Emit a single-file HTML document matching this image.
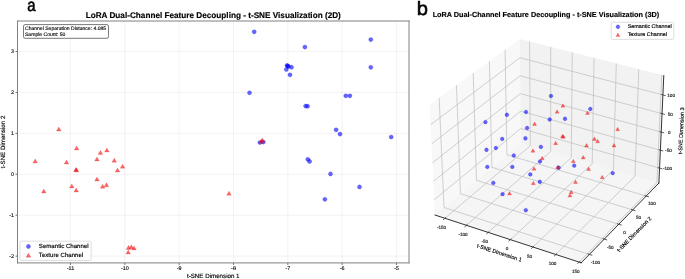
<!DOCTYPE html>
<html><head><meta charset="utf-8"><style>html,body{margin:0;padding:0;background:#fff;width:685px;height:279px;overflow:hidden}svg{display:block;font-family:"Liberation Sans",sans-serif;will-change:transform}svg text{text-rendering:geometricPrecision;stroke:currentColor;stroke-width:0.15px}</style></head><body>
<svg width="685px" height="279px" viewBox="0 0 685 279" version="1.1">
 
 <defs>
  <style type="text/css">*{stroke-linejoin: round; stroke-linecap: butt}</style>
 </defs>
 <g id="figure_1">
  <g id="patch_1">
   <path d="M 0 279 
L 685 279 
L 685 0 
L 0 0 
z
" style="fill: #ffffff"/>
  </g>
  <g id="axes_1">
   <g id="patch_2">
    <path d="M 17.5 262.9 
L 409 262.9 
L 409 21 
L 17.5 21 
z
" style="fill: #ffffff"/>
   </g>
   <g id="matplotlib.axis_1">
    <g id="xtick_1">
     <g id="line2d_1">
      <path d="M 70.45 262.9 
L 70.45 21 
" clip-path="url(#p39f86102aa)" style="fill: none; stroke: #b0b0b0; stroke-opacity: 0.2; stroke-width: 0.8; stroke-linecap: square"/>
     </g>
     <g id="line2d_2">
      <defs>
       <path id="m42e0598f33" d="M 0 0 
L 0 2 
" style="stroke: #444444; stroke-width: 0.8"/>
      </defs>
      <g>
       <use href="#m42e0598f33" x="70.45" y="262.9" style="fill: #444444; stroke: #444444; stroke-width: 0.8"/>
      </g>
     </g>
     <g id="text_1">
      <text style="font-size: 5.4px; font-family: 'Liberation Sans'; text-anchor: middle; fill: #222222" x="70.45" y="270.313312" transform="rotate(-0 70.45 270.313312)">-11</text>
     </g>
    </g>
    <g id="xtick_2">
     <g id="line2d_3">
      <path d="M 124.8 262.9 
L 124.8 21 
" clip-path="url(#p39f86102aa)" style="fill: none; stroke: #b0b0b0; stroke-opacity: 0.2; stroke-width: 0.8; stroke-linecap: square"/>
     </g>
     <g id="line2d_4">
      <g>
       <use href="#m42e0598f33" x="124.8" y="262.9" style="fill: #444444; stroke: #444444; stroke-width: 0.8"/>
      </g>
     </g>
     <g id="text_2">
      <text style="font-size: 5.4px; font-family: 'Liberation Sans'; text-anchor: middle; fill: #222222" x="124.8" y="270.313312" transform="rotate(-0 124.8 270.313312)">-10</text>
     </g>
    </g>
    <g id="xtick_3">
     <g id="line2d_5">
      <path d="M 179.15 262.9 
L 179.15 21 
" clip-path="url(#p39f86102aa)" style="fill: none; stroke: #b0b0b0; stroke-opacity: 0.2; stroke-width: 0.8; stroke-linecap: square"/>
     </g>
     <g id="line2d_6">
      <g>
       <use href="#m42e0598f33" x="179.15" y="262.9" style="fill: #444444; stroke: #444444; stroke-width: 0.8"/>
      </g>
     </g>
     <g id="text_3">
      <text style="font-size: 5.4px; font-family: 'Liberation Sans'; text-anchor: middle; fill: #222222" x="179.15" y="270.313312" transform="rotate(-0 179.15 270.313312)">-9</text>
     </g>
    </g>
    <g id="xtick_4">
     <g id="line2d_7">
      <path d="M 233.5 262.9 
L 233.5 21 
" clip-path="url(#p39f86102aa)" style="fill: none; stroke: #b0b0b0; stroke-opacity: 0.2; stroke-width: 0.8; stroke-linecap: square"/>
     </g>
     <g id="line2d_8">
      <g>
       <use href="#m42e0598f33" x="233.5" y="262.9" style="fill: #444444; stroke: #444444; stroke-width: 0.8"/>
      </g>
     </g>
     <g id="text_4">
      <text style="font-size: 5.4px; font-family: 'Liberation Sans'; text-anchor: middle; fill: #222222" x="233.5" y="270.313312" transform="rotate(-0 233.5 270.313312)">-8</text>
     </g>
    </g>
    <g id="xtick_5">
     <g id="line2d_9">
      <path d="M 287.85 262.9 
L 287.85 21 
" clip-path="url(#p39f86102aa)" style="fill: none; stroke: #b0b0b0; stroke-opacity: 0.2; stroke-width: 0.8; stroke-linecap: square"/>
     </g>
     <g id="line2d_10">
      <g>
       <use href="#m42e0598f33" x="287.85" y="262.9" style="fill: #444444; stroke: #444444; stroke-width: 0.8"/>
      </g>
     </g>
     <g id="text_5">
      <text style="font-size: 5.4px; font-family: 'Liberation Sans'; text-anchor: middle; fill: #222222" x="287.85" y="270.313312" transform="rotate(-0 287.85 270.313312)">-7</text>
     </g>
    </g>
    <g id="xtick_6">
     <g id="line2d_11">
      <path d="M 342.2 262.9 
L 342.2 21 
" clip-path="url(#p39f86102aa)" style="fill: none; stroke: #b0b0b0; stroke-opacity: 0.2; stroke-width: 0.8; stroke-linecap: square"/>
     </g>
     <g id="line2d_12">
      <g>
       <use href="#m42e0598f33" x="342.2" y="262.9" style="fill: #444444; stroke: #444444; stroke-width: 0.8"/>
      </g>
     </g>
     <g id="text_6">
      <text style="font-size: 5.4px; font-family: 'Liberation Sans'; text-anchor: middle; fill: #222222" x="342.2" y="270.313312" transform="rotate(-0 342.2 270.313312)">-6</text>
     </g>
    </g>
    <g id="xtick_7">
     <g id="line2d_13">
      <path d="M 396.55 262.9 
L 396.55 21 
" clip-path="url(#p39f86102aa)" style="fill: none; stroke: #b0b0b0; stroke-opacity: 0.2; stroke-width: 0.8; stroke-linecap: square"/>
     </g>
     <g id="line2d_14">
      <g>
       <use href="#m42e0598f33" x="396.55" y="262.9" style="fill: #444444; stroke: #444444; stroke-width: 0.8"/>
      </g>
     </g>
     <g id="text_7">
      <text style="font-size: 5.4px; font-family: 'Liberation Sans'; text-anchor: middle; fill: #222222" x="396.55" y="270.313312" transform="rotate(-0 396.55 270.313312)">-5</text>
     </g>
    </g>
    <g id="text_8">
     <text style="font-size: 6.2px; font-family: 'Liberation Sans'; text-anchor: middle" x="213.25" y="277.926875" transform="rotate(-0 213.25 277.926875)">t-SNE Dimension 1</text>
    </g>
   </g>
   <g id="matplotlib.axis_2">
    <g id="ytick_1">
     <g id="line2d_15">
      <path d="M 17.5 256.13 
L 409 256.13 
" clip-path="url(#p39f86102aa)" style="fill: none; stroke: #b0b0b0; stroke-opacity: 0.2; stroke-width: 0.8; stroke-linecap: square"/>
     </g>
     <g id="line2d_16">
      <defs>
       <path id="mefeeff898b" d="M 0 0 
L -2 0 
" style="stroke: #444444; stroke-width: 0.8"/>
      </defs>
      <g>
       <use href="#mefeeff898b" x="17.5" y="256.13" style="fill: #444444; stroke: #444444; stroke-width: 0.8"/>
      </g>
     </g>
     <g id="text_9">
      <text style="font-size: 5.4px; font-family: 'Liberation Sans'; text-anchor: end; fill: #222222" x="14" y="258.086656" transform="rotate(-0 14 258.086656)">-2</text>
     </g>
    </g>
    <g id="ytick_2">
     <g id="line2d_17">
      <path d="M 17.5 215.21 
L 409 215.21 
" clip-path="url(#p39f86102aa)" style="fill: none; stroke: #b0b0b0; stroke-opacity: 0.2; stroke-width: 0.8; stroke-linecap: square"/>
     </g>
     <g id="line2d_18">
      <g>
       <use href="#mefeeff898b" x="17.5" y="215.21" style="fill: #444444; stroke: #444444; stroke-width: 0.8"/>
      </g>
     </g>
     <g id="text_10">
      <text style="font-size: 5.4px; font-family: 'Liberation Sans'; text-anchor: end; fill: #222222" x="14" y="217.166656" transform="rotate(-0 14 217.166656)">-1</text>
     </g>
    </g>
    <g id="ytick_3">
     <g id="line2d_19">
      <path d="M 17.5 174.29 
L 409 174.29 
" clip-path="url(#p39f86102aa)" style="fill: none; stroke: #b0b0b0; stroke-opacity: 0.2; stroke-width: 0.8; stroke-linecap: square"/>
     </g>
     <g id="line2d_20">
      <g>
       <use href="#mefeeff898b" x="17.5" y="174.29" style="fill: #444444; stroke: #444444; stroke-width: 0.8"/>
      </g>
     </g>
     <g id="text_11">
      <text style="font-size: 5.4px; font-family: 'Liberation Sans'; text-anchor: end; fill: #222222" x="14" y="176.246656" transform="rotate(-0 14 176.246656)">0</text>
     </g>
    </g>
    <g id="ytick_4">
     <g id="line2d_21">
      <path d="M 17.5 133.37 
L 409 133.37 
" clip-path="url(#p39f86102aa)" style="fill: none; stroke: #b0b0b0; stroke-opacity: 0.2; stroke-width: 0.8; stroke-linecap: square"/>
     </g>
     <g id="line2d_22">
      <g>
       <use href="#mefeeff898b" x="17.5" y="133.37" style="fill: #444444; stroke: #444444; stroke-width: 0.8"/>
      </g>
     </g>
     <g id="text_12">
      <text style="font-size: 5.4px; font-family: 'Liberation Sans'; text-anchor: end; fill: #222222" x="14" y="135.326656" transform="rotate(-0 14 135.326656)">1</text>
     </g>
    </g>
    <g id="ytick_5">
     <g id="line2d_23">
      <path d="M 17.5 92.45 
L 409 92.45 
" clip-path="url(#p39f86102aa)" style="fill: none; stroke: #b0b0b0; stroke-opacity: 0.2; stroke-width: 0.8; stroke-linecap: square"/>
     </g>
     <g id="line2d_24">
      <g>
       <use href="#mefeeff898b" x="17.5" y="92.45" style="fill: #444444; stroke: #444444; stroke-width: 0.8"/>
      </g>
     </g>
     <g id="text_13">
      <text style="font-size: 5.4px; font-family: 'Liberation Sans'; text-anchor: end; fill: #222222" x="14" y="94.406656" transform="rotate(-0 14 94.406656)">2</text>
     </g>
    </g>
    <g id="ytick_6">
     <g id="line2d_25">
      <path d="M 17.5 51.53 
L 409 51.53 
" clip-path="url(#p39f86102aa)" style="fill: none; stroke: #b0b0b0; stroke-opacity: 0.2; stroke-width: 0.8; stroke-linecap: square"/>
     </g>
     <g id="line2d_26">
      <g>
       <use href="#mefeeff898b" x="17.5" y="51.53" style="fill: #444444; stroke: #444444; stroke-width: 0.8"/>
      </g>
     </g>
     <g id="text_14">
      <text style="font-size: 5.4px; font-family: 'Liberation Sans'; text-anchor: end; fill: #222222" x="14" y="53.486656" transform="rotate(-0 14 53.486656)">3</text>
     </g>
    </g>
    <g id="text_15">
     <text style="font-size: 6.2px; font-family: 'Liberation Sans'; text-anchor: middle" x="4.712562" y="141.95" transform="rotate(-90 4.712562 141.95)">t-SNE Dimension 2</text>
    </g>
   </g>
   <g id="patch_3">
    <path d="M 17.5 262.9 
L 17.5 21 
" style="fill: none; stroke: #808080; stroke-linejoin: miter; stroke-linecap: square"/>
   </g>
   <g id="patch_4">
    <path d="M 409 262.9 
L 409 21 
" style="fill: none; stroke: #808080; stroke-linejoin: miter; stroke-linecap: square"/>
   </g>
   <g id="patch_5">
    <path d="M 17.5 262.9 
L 409 262.9 
" style="fill: none; stroke: #808080; stroke-linejoin: miter; stroke-linecap: square"/>
   </g>
   <g id="patch_6">
    <path d="M 17.5 21 
L 409 21 
" style="fill: none; stroke: #808080; stroke-linejoin: miter; stroke-linecap: square"/>
   </g>
   <g id="PathCollection_1">
    <defs>
     <path id="mce87ee0390" d="M 0 2.12132 
C 0.562581 2.12132 1.102195 1.897805 1.5 1.5 
C 1.897805 1.102195 2.12132 0.562581 2.12132 0 
C 2.12132 -0.562581 1.897805 -1.102195 1.5 -1.5 
C 1.102195 -1.897805 0.562581 -2.12132 0 -2.12132 
C -0.562581 -2.12132 -1.102195 -1.897805 -1.5 -1.5 
C -1.897805 -1.102195 -2.12132 -0.562581 -2.12132 0 
C -2.12132 0.562581 -1.897805 1.102195 -1.5 1.5 
C -1.102195 1.897805 -0.562581 2.12132 0 2.12132 
z
" style="stroke: #0000cc; stroke-opacity: 0.6; stroke-width: 0.3"/>
    </defs>
    <g clip-path="url(#p39f86102aa)">
     <use href="#mce87ee0390" x="254.2" y="31.8" style="fill: #0000ff; fill-opacity: 0.6; stroke: #0000cc; stroke-opacity: 0.6; stroke-width: 0.3"/>
     <use href="#mce87ee0390" x="304.9" y="47.1" style="fill: #0000ff; fill-opacity: 0.6; stroke: #0000cc; stroke-opacity: 0.6; stroke-width: 0.3"/>
     <use href="#mce87ee0390" x="370.8" y="39.6" style="fill: #0000ff; fill-opacity: 0.6; stroke: #0000cc; stroke-opacity: 0.6; stroke-width: 0.3"/>
     <use href="#mce87ee0390" x="370.8" y="67.3" style="fill: #0000ff; fill-opacity: 0.6; stroke: #0000cc; stroke-opacity: 0.6; stroke-width: 0.3"/>
     <use href="#mce87ee0390" x="287" y="65.4" style="fill: #0000ff; fill-opacity: 0.6; stroke: #0000cc; stroke-opacity: 0.6; stroke-width: 0.3"/>
     <use href="#mce87ee0390" x="288.5" y="66.4" style="fill: #0000ff; fill-opacity: 0.6; stroke: #0000cc; stroke-opacity: 0.6; stroke-width: 0.3"/>
     <use href="#mce87ee0390" x="291.5" y="67.2" style="fill: #0000ff; fill-opacity: 0.6; stroke: #0000cc; stroke-opacity: 0.6; stroke-width: 0.3"/>
     <use href="#mce87ee0390" x="286.3" y="69.5" style="fill: #0000ff; fill-opacity: 0.6; stroke: #0000cc; stroke-opacity: 0.6; stroke-width: 0.3"/>
     <use href="#mce87ee0390" x="290" y="74.8" style="fill: #0000ff; fill-opacity: 0.6; stroke: #0000cc; stroke-opacity: 0.6; stroke-width: 0.3"/>
     <use href="#mce87ee0390" x="249.5" y="92.8" style="fill: #0000ff; fill-opacity: 0.6; stroke: #0000cc; stroke-opacity: 0.6; stroke-width: 0.3"/>
     <use href="#mce87ee0390" x="305.6" y="106.1" style="fill: #0000ff; fill-opacity: 0.6; stroke: #0000cc; stroke-opacity: 0.6; stroke-width: 0.3"/>
     <use href="#mce87ee0390" x="307.6" y="106.2" style="fill: #0000ff; fill-opacity: 0.6; stroke: #0000cc; stroke-opacity: 0.6; stroke-width: 0.3"/>
     <use href="#mce87ee0390" x="345.8" y="95.8" style="fill: #0000ff; fill-opacity: 0.6; stroke: #0000cc; stroke-opacity: 0.6; stroke-width: 0.3"/>
     <use href="#mce87ee0390" x="349.9" y="95.8" style="fill: #0000ff; fill-opacity: 0.6; stroke: #0000cc; stroke-opacity: 0.6; stroke-width: 0.3"/>
     <use href="#mce87ee0390" x="336.1" y="129.8" style="fill: #0000ff; fill-opacity: 0.6; stroke: #0000cc; stroke-opacity: 0.6; stroke-width: 0.3"/>
     <use href="#mce87ee0390" x="340" y="134.1" style="fill: #0000ff; fill-opacity: 0.6; stroke: #0000cc; stroke-opacity: 0.6; stroke-width: 0.3"/>
     <use href="#mce87ee0390" x="391.2" y="137" style="fill: #0000ff; fill-opacity: 0.6; stroke: #0000cc; stroke-opacity: 0.6; stroke-width: 0.3"/>
     <use href="#mce87ee0390" x="307.8" y="159.3" style="fill: #0000ff; fill-opacity: 0.6; stroke: #0000cc; stroke-opacity: 0.6; stroke-width: 0.3"/>
     <use href="#mce87ee0390" x="309.6" y="161.4" style="fill: #0000ff; fill-opacity: 0.6; stroke: #0000cc; stroke-opacity: 0.6; stroke-width: 0.3"/>
     <use href="#mce87ee0390" x="330.5" y="173.9" style="fill: #0000ff; fill-opacity: 0.6; stroke: #0000cc; stroke-opacity: 0.6; stroke-width: 0.3"/>
     <use href="#mce87ee0390" x="324.9" y="199.3" style="fill: #0000ff; fill-opacity: 0.6; stroke: #0000cc; stroke-opacity: 0.6; stroke-width: 0.3"/>
     <use href="#mce87ee0390" x="259.9" y="142.5" style="fill: #0000ff; fill-opacity: 0.6; stroke: #0000cc; stroke-opacity: 0.6; stroke-width: 0.3"/>
     <use href="#mce87ee0390" x="263.3" y="142.1" style="fill: #0000ff; fill-opacity: 0.6; stroke: #0000cc; stroke-opacity: 0.6; stroke-width: 0.3"/>
     <use href="#mce87ee0390" x="287.6" y="66" style="fill: #0000ff; fill-opacity: 0.6; stroke: #0000cc; stroke-opacity: 0.6; stroke-width: 0.3"/>
     <use href="#mce87ee0390" x="359.5" y="186.9" style="fill: #0000ff; fill-opacity: 0.6; stroke: #0000cc; stroke-opacity: 0.6; stroke-width: 0.3"/>
    </g>
   </g>
   <g id="PathCollection_2">
    <defs>
     <path id="mcd5860a1e4" d="M 0 -1.99342 
L -2.291288 1.99342 
L 2.291288 1.99342 
z
" style="stroke: #cc0000; stroke-opacity: 0.6; stroke-width: 0.3"/>
    </defs>
    <g clip-path="url(#p39f86102aa)">
     <use href="#mcd5860a1e4" x="58.8" y="129" style="fill: #ff0000; fill-opacity: 0.6; stroke: #cc0000; stroke-opacity: 0.6; stroke-width: 0.3"/>
     <use href="#mcd5860a1e4" x="76.6" y="148" style="fill: #ff0000; fill-opacity: 0.6; stroke: #cc0000; stroke-opacity: 0.6; stroke-width: 0.3"/>
     <use href="#mcd5860a1e4" x="35.2" y="161" style="fill: #ff0000; fill-opacity: 0.6; stroke: #cc0000; stroke-opacity: 0.6; stroke-width: 0.3"/>
     <use href="#mcd5860a1e4" x="66.5" y="162" style="fill: #ff0000; fill-opacity: 0.6; stroke: #cc0000; stroke-opacity: 0.6; stroke-width: 0.3"/>
     <use href="#mcd5860a1e4" x="76" y="169.6" style="fill: #ff0000; fill-opacity: 0.6; stroke: #cc0000; stroke-opacity: 0.6; stroke-width: 0.3"/>
     <use href="#mcd5860a1e4" x="76.4" y="169.8" style="fill: #ff0000; fill-opacity: 0.6; stroke: #cc0000; stroke-opacity: 0.6; stroke-width: 0.3"/>
     <use href="#mcd5860a1e4" x="43.8" y="191" style="fill: #ff0000; fill-opacity: 0.6; stroke: #cc0000; stroke-opacity: 0.6; stroke-width: 0.3"/>
     <use href="#mcd5860a1e4" x="71.8" y="185.9" style="fill: #ff0000; fill-opacity: 0.6; stroke: #cc0000; stroke-opacity: 0.6; stroke-width: 0.3"/>
     <use href="#mcd5860a1e4" x="76.2" y="190" style="fill: #ff0000; fill-opacity: 0.6; stroke: #cc0000; stroke-opacity: 0.6; stroke-width: 0.3"/>
     <use href="#mcd5860a1e4" x="100.4" y="152.4" style="fill: #ff0000; fill-opacity: 0.6; stroke: #cc0000; stroke-opacity: 0.6; stroke-width: 0.3"/>
     <use href="#mcd5860a1e4" x="106.9" y="150" style="fill: #ff0000; fill-opacity: 0.6; stroke: #cc0000; stroke-opacity: 0.6; stroke-width: 0.3"/>
     <use href="#mcd5860a1e4" x="97" y="158.9" style="fill: #ff0000; fill-opacity: 0.6; stroke: #cc0000; stroke-opacity: 0.6; stroke-width: 0.3"/>
     <use href="#mcd5860a1e4" x="114.3" y="160.2" style="fill: #ff0000; fill-opacity: 0.6; stroke: #cc0000; stroke-opacity: 0.6; stroke-width: 0.3"/>
     <use href="#mcd5860a1e4" x="117.5" y="170.1" style="fill: #ff0000; fill-opacity: 0.6; stroke: #cc0000; stroke-opacity: 0.6; stroke-width: 0.3"/>
     <use href="#mcd5860a1e4" x="122.6" y="166.2" style="fill: #ff0000; fill-opacity: 0.6; stroke: #cc0000; stroke-opacity: 0.6; stroke-width: 0.3"/>
     <use href="#mcd5860a1e4" x="97" y="179.1" style="fill: #ff0000; fill-opacity: 0.6; stroke: #cc0000; stroke-opacity: 0.6; stroke-width: 0.3"/>
     <use href="#mcd5860a1e4" x="102.6" y="186.2" style="fill: #ff0000; fill-opacity: 0.6; stroke: #cc0000; stroke-opacity: 0.6; stroke-width: 0.3"/>
     <use href="#mcd5860a1e4" x="106.4" y="184.7" style="fill: #ff0000; fill-opacity: 0.6; stroke: #cc0000; stroke-opacity: 0.6; stroke-width: 0.3"/>
     <use href="#mcd5860a1e4" x="128.5" y="247.5" style="fill: #ff0000; fill-opacity: 0.6; stroke: #cc0000; stroke-opacity: 0.6; stroke-width: 0.3"/>
     <use href="#mcd5860a1e4" x="131.3" y="246.8" style="fill: #ff0000; fill-opacity: 0.6; stroke: #cc0000; stroke-opacity: 0.6; stroke-width: 0.3"/>
     <use href="#mcd5860a1e4" x="134" y="248" style="fill: #ff0000; fill-opacity: 0.6; stroke: #cc0000; stroke-opacity: 0.6; stroke-width: 0.3"/>
     <use href="#mcd5860a1e4" x="128.2" y="252" style="fill: #ff0000; fill-opacity: 0.6; stroke: #cc0000; stroke-opacity: 0.6; stroke-width: 0.3"/>
     <use href="#mcd5860a1e4" x="229" y="193.2" style="fill: #ff0000; fill-opacity: 0.6; stroke: #cc0000; stroke-opacity: 0.6; stroke-width: 0.3"/>
     <use href="#mcd5860a1e4" x="261.2" y="141.2" style="fill: #ff0000; fill-opacity: 0.6; stroke: #cc0000; stroke-opacity: 0.6; stroke-width: 0.3"/>
     <use href="#mcd5860a1e4" x="262.4" y="139.9" style="fill: #ff0000; fill-opacity: 0.6; stroke: #cc0000; stroke-opacity: 0.6; stroke-width: 0.3"/>
    </g>
   </g>
   <g id="text_16">
    <text style="font-weight: 700; font-size: 8.2px; font-family: 'Liberation Sans'; text-anchor: middle" x="213.25" y="18" transform="rotate(-0 213.25 18)">LoRA Dual-Channel Feature Decoupling - t-SNE Visualization (2D)</text>
   </g>
   <g id="legend_1">
    <g id="patch_7">
     <path d="M 21.16 260.46 
L 89.912719 260.46 
Q 91.132719 260.46 91.132719 259.24 
L 91.132719 242.377312 
Q 91.132719 241.157312 89.912719 241.157312 
L 21.16 241.157312 
Q 19.94 241.157312 19.94 242.377312 
L 19.94 259.24 
Q 19.94 260.46 21.16 260.46 
z
" style="fill: #ffffff; opacity: 0.8; stroke: #cccccc; stroke-width: 0.8; stroke-linejoin: miter"/>
    </g>
    <g id="PathCollection_3">
     <g>
      <use href="#mce87ee0390" x="28.4495" y="246.416656" style="fill: #0000ff; fill-opacity: 0.6; stroke: #0000cc; stroke-opacity: 0.6; stroke-width: 0.3"/>
     </g>
    </g>
    <g id="text_17">
     <text style="font-size: 6.1px; font-family: 'Liberation Sans'; text-anchor: start" x="38.85" y="248.017906" transform="rotate(-0 38.85 248.017906)">Semantic Channel</text>
    </g>
    <g id="PathCollection_4">
     <g>
      <use href="#mcd5860a1e4" x="28.4495" y="255.153" style="fill: #ff0000; fill-opacity: 0.6; stroke: #cc0000; stroke-opacity: 0.6; stroke-width: 0.3"/>
     </g>
    </g>
    <g id="text_18">
     <text style="font-size: 6.1px; font-family: 'Liberation Sans'; text-anchor: start" x="38.85" y="256.75425" transform="rotate(-0 38.85 256.75425)">Texture Channel</text>
    </g>
   </g>
  </g>
  <g id="patch_8">
   <path d="M 415.338685 279.218093 
L 675.624797 279.218093 
L 675.624797 18.93198 
L 415.338685 18.93198 
z
" style="fill: #ffffff"/>
  </g>
  <g id="pane3d_1">
   <g id="patch_9">
    <path d="M 434.992081 215.039879 
L 520.947056 142.990714 
L 519.7522 39.08294 
L 429.683836 104.810729 
" style="fill: #f2f2f2; opacity: 0.5"/>
   </g>
  </g>
  <g id="pane3d_2">
   <g id="patch_10">
    <path d="M 520.947056 142.990714 
L 658.874122 183.080667 
L 663.796253 75.593908 
L 519.7522 39.08294 
" style="fill: #e6e6e6; opacity: 0.5"/>
   </g>
  </g>
  <g id="pane3d_3">
   <g id="patch_11">
    <path d="M 434.992081 215.039879 
L 581.201508 262.791877 
L 658.874122 183.080667 
L 520.947056 142.990714 
" style="fill: #ececec; opacity: 0.5"/>
   </g>
  </g>
  <g id="grid3d_1">
   <g id="Line3DCollection_1">
    <path d="M 444.906677 218.277986 
L 530.338585 145.720461 
L 529.54096 41.564105 
" style="fill: none; stroke: #b8b8b8; stroke-width: 0.65"/>
    <path d="M 466.383923 225.292454 
L 550.66344 151.628094 
L 550.735119 46.936206 
" style="fill: none; stroke: #b8b8b8; stroke-width: 0.65"/>
    <path d="M 488.204334 232.419001 
L 571.286033 157.622268 
L 572.253225 52.390419 
" style="fill: none; stroke: #b8b8b8; stroke-width: 0.65"/>
    <path d="M 510.376203 239.660333 
L 592.212955 163.704898 
L 594.102761 57.928639 
" style="fill: none; stroke: #b8b8b8; stroke-width: 0.65"/>
    <path d="M 532.908087 247.019246 
L 613.450992 169.877957 
L 616.291445 63.552824 
" style="fill: none; stroke: #b8b8b8; stroke-width: 0.65"/>
    <path d="M 555.80883 254.498629 
L 635.007135 176.143476 
L 638.827234 69.26499 
" style="fill: none; stroke: #b8b8b8; stroke-width: 0.65"/>
    <path d="M 579.087562 262.101462 
L 656.888584 182.50355 
L 661.718338 75.067217 
" style="fill: none; stroke: #b8b8b8; stroke-width: 0.65"/>
   </g>
  </g>
  <g id="grid3d_2">
   <g id="Line3DCollection_2">
    <path d="M 439.160748 97.89491 
L 444.005504 207.48465 
L 589.37867 254.400098 
" style="fill: none; stroke: #b8b8b8; stroke-width: 0.65"/>
    <path d="M 456.45835 85.271908 
L 460.475684 193.679018 
L 604.301179 239.085932 
" style="fill: none; stroke: #b8b8b8; stroke-width: 0.65"/>
    <path d="M 473.194117 73.058908 
L 476.433766 180.302637 
L 618.735626 224.272638 
" style="fill: none; stroke: #b8b8b8; stroke-width: 0.65"/>
    <path d="M 489.394982 61.236254 
L 491.903267 167.335795 
L 632.70557 209.93604 
" style="fill: none; stroke: #b8b8b8; stroke-width: 0.65"/>
    <path d="M 505.086188 49.785527 
L 506.906287 154.759966 
L 646.233076 196.053491 
" style="fill: none; stroke: #b8b8b8; stroke-width: 0.65"/>
   </g>
  </g>
  <g id="grid3d_3">
   <g id="Line3DCollection_3">
    <path d="M 659.560804 168.08529 
L 520.78006 128.468285 
L 434.252607 199.684211 
" style="fill: none; stroke: #b8b8b8; stroke-width: 0.65"/>
    <path d="M 660.379735 150.201928 
L 520.58103 111.160145 
L 433.370261 181.361728 
" style="fill: none; stroke: #b8b8b8; stroke-width: 0.65"/>
    <path d="M 661.210888 132.051664 
L 520.379173 93.606121 
L 432.47424 162.755278 
" style="fill: none; stroke: #b8b8b8; stroke-width: 0.65"/>
    <path d="M 662.05454 113.628478 
L 520.174427 75.800935 
L 431.564224 143.858209 
" style="fill: none; stroke: #b8b8b8; stroke-width: 0.65"/>
    <path d="M 662.910973 94.92617 
L 519.966731 57.73916 
L 430.639883 124.663659 
" style="fill: none; stroke: #b8b8b8; stroke-width: 0.65"/>
   </g>
  </g>
  <g id="axis3d_1">
   <g id="line2d_27">
    <path d="M 434.992081 215.039879 
L 581.201508 262.791877 
" style="fill: none; stroke: #000000; stroke-width: 0.8; stroke-linecap: square"/>
   </g>
   <g id="xtick_8">
    <g id="line2d_28">
     <path d="M 445.650637 217.646139 
L 443.415564 219.544392 
" style="fill: none; stroke: #333333; stroke-width: 0.8; stroke-linecap: square"/>
    </g>
    <g id="text_19">
     <text style="font-size: 4.6px; font-family: 'Liberation Sans'; text-anchor: middle; fill: #333333" x="441.509515" y="228.704723" transform="rotate(-0 441.509515 228.704723)">-150</text>
    </g>
   </g>
   <g id="xtick_9">
    <g id="line2d_29">
     <path d="M 467.11832 224.650556 
L 464.911951 226.579029 
" style="fill: none; stroke: #333333; stroke-width: 0.8; stroke-linecap: square"/>
    </g>
    <g id="text_20">
     <text style="font-size: 4.6px; font-family: 'Liberation Sans'; text-anchor: middle; fill: #333333" x="462.996931" y="235.787637" transform="rotate(-0 462.996931 235.787637)">-100</text>
    </g>
   </g>
   <g id="xtick_10">
    <g id="line2d_30">
     <path d="M 488.928768 231.766808 
L 486.752308 233.72623 
" style="fill: none; stroke: #333333; stroke-width: 0.8; stroke-linecap: square"/>
    </g>
    <g id="text_21">
     <text style="font-size: 4.6px; font-family: 'Liberation Sans'; text-anchor: middle; fill: #333333" x="484.828273" y="242.983921" transform="rotate(-0 484.828273 242.983921)">-50</text>
    </g>
   </g>
   <g id="xtick_11">
    <g id="line2d_31">
     <path d="M 511.090254 238.997597 
L 508.94496 240.988717 
" style="fill: none; stroke: #333333; stroke-width: 0.8; stroke-linecap: square"/>
    </g>
    <g id="text_22">
     <text style="font-size: 4.6px; font-family: 'Liberation Sans'; text-anchor: middle; fill: #333333" x="507.011866" y="250.296317" transform="rotate(-0 507.011866 250.296317)">0</text>
    </g>
   </g>
   <g id="xtick_12">
    <g id="line2d_32">
     <path d="M 533.611324 246.34571 
L 531.498498 248.369304 
" style="fill: none; stroke: #333333; stroke-width: 0.8; stroke-linecap: square"/>
    </g>
    <g id="text_23">
     <text style="font-size: 4.6px; font-family: 'Liberation Sans'; text-anchor: middle; fill: #333333" x="529.556304" y="257.727659" transform="rotate(-0 529.556304 257.727659)">50</text>
    </g>
   </g>
   <g id="xtick_13">
    <g id="line2d_33">
     <path d="M 556.5008 253.814025 
L 554.421797 255.870895 
" style="fill: none; stroke: #333333; stroke-width: 0.8; stroke-linecap: square"/>
    </g>
    <g id="text_24">
     <text style="font-size: 4.6px; font-family: 'Liberation Sans'; text-anchor: middle; fill: #333333" x="552.470464" y="265.280872" transform="rotate(-0 552.470464 265.280872)">100</text>
    </g>
   </g>
   <g id="xtick_14">
    <g id="line2d_34">
     <path d="M 579.767796 261.405517 
L 577.724027 263.496489 
" style="fill: none; stroke: #333333; stroke-width: 0.8; stroke-linecap: square"/>
    </g>
    <g id="text_25">
     <text style="font-size: 4.6px; font-family: 'Liberation Sans'; text-anchor: middle; fill: #333333" x="575.763516" y="272.95898" transform="rotate(-0 575.763516 272.95898)">150</text>
    </g>
   </g>
   <g id="text_26">
    <text style="font-size: 5.5px; font-family: 'Liberation Sans'; text-anchor: middle" x="498.852744" y="254.523731" transform="rotate(-341.912962 498.852744 254.523731)">t-SNE Dimension 1</text>
   </g>
  </g>
  <g id="axis3d_2">
   <g id="line2d_35">
    <path d="M 658.874122 183.080667 
L 581.201508 262.791877 
" style="fill: none; stroke: #000000; stroke-width: 0.8; stroke-linecap: square"/>
   </g>
   <g id="xtick_15">
    <g id="line2d_36">
     <path d="M 588.153799 254.004802 
L 591.831569 255.191708 
" style="fill: none; stroke: #333333; stroke-width: 0.8; stroke-linecap: square"/>
    </g>
    <g id="text_27">
     <text style="font-size: 4.6px; font-family: 'Liberation Sans'; text-anchor: middle; fill: #333333" x="595.407061" y="264.014365" transform="rotate(-0 595.407061 264.014365)">-100</text>
    </g>
   </g>
   <g id="xtick_16">
    <g id="line2d_37">
     <path d="M 603.090366 238.703668 
L 606.725875 239.851429 
" style="fill: none; stroke: #333333; stroke-width: 0.8; stroke-linecap: square"/>
    </g>
    <g id="text_28">
     <text style="font-size: 4.6px; font-family: 'Liberation Sans'; text-anchor: middle; fill: #333333" x="610.233523" y="248.591438" transform="rotate(-0 610.233523 248.591438)">-50</text>
    </g>
   </g>
   <g id="xtick_17">
    <g id="line2d_38">
     <path d="M 617.538614 223.902772 
L 621.132636 225.013293 
" style="fill: none; stroke: #333333; stroke-width: 0.8; stroke-linecap: square"/>
    </g>
    <g id="text_29">
     <text style="font-size: 4.6px; font-family: 'Liberation Sans'; text-anchor: middle; fill: #333333" x="624.57493" y="233.673081" transform="rotate(-0 624.57493 233.673081)">0</text>
    </g>
   </g>
   <g id="xtick_18">
    <g id="line2d_39">
     <path d="M 631.522104 209.577978 
L 635.075405 210.653042 
" style="fill: none; stroke: #333333; stroke-width: 0.8; stroke-linecap: square"/>
    </g>
    <g id="text_30">
     <text style="font-size: 4.6px; font-family: 'Liberation Sans'; text-anchor: middle; fill: #333333" x="638.454701" y="219.23493" transform="rotate(-0 638.454701 219.23493)">50</text>
    </g>
   </g>
   <g id="xtick_19">
    <g id="line2d_40">
     <path d="M 645.062905 195.706677 
L 648.576242 196.747956 
" style="fill: none; stroke: #333333; stroke-width: 0.8; stroke-linecap: square"/>
    </g>
    <g id="text_31">
     <text style="font-size: 4.6px; font-family: 'Liberation Sans'; text-anchor: middle; fill: #333333" x="651.894774" y="205.254168" transform="rotate(-0 651.894774 205.254168)">100</text>
    </g>
   </g>
   <g id="text_32">
    <text style="font-size: 5.5px; font-family: 'Liberation Sans'; text-anchor: middle" x="635.625334" y="235.468703" transform="rotate(-45.742112 635.625334 235.468703)">t-SNE Dimension 2</text>
   </g>
  </g>
  <g id="axis3d_3">
   <g id="line2d_41">
    <path d="M 658.874122 183.080667 
L 663.796253 75.593908 
" style="fill: none; stroke: #000000; stroke-width: 0.8; stroke-linecap: square"/>
   </g>
   <g id="xtick_20">
    <g id="line2d_42">
     <path d="M 658.395711 167.752697 
L 661.893779 168.751272 
" style="fill: none; stroke: #333333; stroke-width: 0.8; stroke-linecap: square"/>
    </g>
    <g id="text_33">
     <text style="font-size: 4.6px; font-family: 'Liberation Sans'; text-anchor: middle; fill: #333333" x="667.556911" y="170.297418" transform="rotate(-0 667.556911 170.297418)">-100</text>
    </g>
   </g>
   <g id="xtick_21">
    <g id="line2d_43">
     <path d="M 659.205687 149.874049 
L 662.730662 150.858474 
" style="fill: none; stroke: #333333; stroke-width: 0.8; stroke-linecap: square"/>
    </g>
    <g id="text_34">
     <text style="font-size: 4.6px; font-family: 'Liberation Sans'; text-anchor: middle; fill: #333333" x="668.433881" y="152.429961" transform="rotate(-0 668.433881 152.429961)">-50</text>
    </g>
   </g>
   <g id="xtick_22">
    <g id="line2d_44">
     <path d="M 660.027747 131.728679 
L 663.580046 132.698418 
" style="fill: none; stroke: #333333; stroke-width: 0.8; stroke-linecap: square"/>
    </g>
    <g id="text_35">
     <text style="font-size: 4.6px; font-family: 'Liberation Sans'; text-anchor: middle; fill: #333333" x="669.323921" y="134.296203" transform="rotate(-0 669.323921 134.296203)">0</text>
    </g>
   </g>
   <g id="xtick_23">
    <g id="line2d_45">
     <path d="M 660.862162 113.310571 
L 664.442212 114.265071 
" style="fill: none; stroke: #333333; stroke-width: 0.8; stroke-linecap: square"/>
    </g>
    <g id="text_36">
     <text style="font-size: 4.6px; font-family: 'Liberation Sans'; text-anchor: middle; fill: #333333" x="670.227327" y="115.890147" transform="rotate(-0 670.227327 115.890147)">50</text>
    </g>
   </g>
   <g id="xtick_24">
    <g id="line2d_46">
     <path d="M 661.709215 94.613532 
L 665.317451 95.552216 
" style="fill: none; stroke: #333333; stroke-width: 0.8; stroke-linecap: square"/>
    </g>
    <g id="text_37">
     <text style="font-size: 4.6px; font-family: 'Liberation Sans'; text-anchor: middle; fill: #333333" x="671.1444" y="97.205613" transform="rotate(-0 671.1444 97.205613)">100</text>
    </g>
   </g>
   <g id="text_38">
    <text style="font-size: 5.5px; font-family: 'Liberation Sans'; text-anchor: middle" x="683.109669" y="130.852839" transform="rotate(-87.378092 683.109669 130.852839)">t-SNE Dimension 3</text>
   </g>
  </g>
  <g id="axes_2"/>
  <g id="axes_3">
   <g id="PathCollection_5">
    <defs>
     <path id="m36dbbd0642" d="M 0 1.936492 
C 0.513564 1.936492 1.006162 1.732451 1.369306 1.369306 
C 1.732451 1.006162 1.936492 0.513564 1.936492 0 
C 1.936492 -0.513564 1.732451 -1.006162 1.369306 -1.369306 
C 1.006162 -1.732451 0.513564 -1.936492 0 -1.936492 
C -0.513564 -1.936492 -1.006162 -1.732451 -1.369306 -1.369306 
C -1.732451 -1.006162 -1.936492 -0.513564 -1.936492 0 
C -1.936492 0.513564 -1.732451 1.006162 -1.369306 1.369306 
C -1.006162 1.732451 -0.513564 1.936492 0 1.936492 
z
" style="stroke: #0000cc; stroke-opacity: 0.6; stroke-width: 0.3"/>
    </defs>
    <g clip-path="url(#p69a5e61178)">
     <use href="#m36dbbd0642" x="506.9" y="114.8" style="fill: #0000ff; fill-opacity: 0.6; stroke: #0000cc; stroke-opacity: 0.6; stroke-width: 0.3"/>
     <use href="#m36dbbd0642" x="551" y="96" style="fill: #0000ff; fill-opacity: 0.6; stroke: #0000cc; stroke-opacity: 0.6; stroke-width: 0.3"/>
     <use href="#m36dbbd0642" x="526" y="112" style="fill: #0000ff; fill-opacity: 0.6; stroke: #0000cc; stroke-opacity: 0.6; stroke-width: 0.3"/>
     <use href="#m36dbbd0642" x="549.7" y="119.5" style="fill: #0000ff; fill-opacity: 0.6; stroke: #0000cc; stroke-opacity: 0.6; stroke-width: 0.3"/>
     <use href="#m36dbbd0642" x="565" y="118.8" style="fill: #0000ff; fill-opacity: 0.6; stroke: #0000cc; stroke-opacity: 0.6; stroke-width: 0.3"/>
     <use href="#m36dbbd0642" x="590.3" y="109" style="fill: #0000ff; fill-opacity: 0.6; stroke: #0000cc; stroke-opacity: 0.6; stroke-width: 0.3"/>
     <use href="#m36dbbd0642" x="485.4" y="122.1" style="fill: #0000ff; fill-opacity: 0.6; stroke: #0000cc; stroke-opacity: 0.6; stroke-width: 0.3"/>
     <use href="#m36dbbd0642" x="502.2" y="138.9" style="fill: #0000ff; fill-opacity: 0.6; stroke: #0000cc; stroke-opacity: 0.6; stroke-width: 0.3"/>
     <use href="#m36dbbd0642" x="486.5" y="149.8" style="fill: #0000ff; fill-opacity: 0.6; stroke: #0000cc; stroke-opacity: 0.6; stroke-width: 0.3"/>
     <use href="#m36dbbd0642" x="495.9" y="148" style="fill: #0000ff; fill-opacity: 0.6; stroke: #0000cc; stroke-opacity: 0.6; stroke-width: 0.3"/>
     <use href="#m36dbbd0642" x="513.8" y="155.5" style="fill: #0000ff; fill-opacity: 0.6; stroke: #0000cc; stroke-opacity: 0.6; stroke-width: 0.3"/>
     <use href="#m36dbbd0642" x="487.3" y="166.9" style="fill: #0000ff; fill-opacity: 0.6; stroke: #0000cc; stroke-opacity: 0.6; stroke-width: 0.3"/>
     <use href="#m36dbbd0642" x="512.3" y="166.9" style="fill: #0000ff; fill-opacity: 0.6; stroke: #0000cc; stroke-opacity: 0.6; stroke-width: 0.3"/>
     <use href="#m36dbbd0642" x="527.1" y="128" style="fill: #0000ff; fill-opacity: 0.6; stroke: #0000cc; stroke-opacity: 0.6; stroke-width: 0.3"/>
     <use href="#m36dbbd0642" x="525.4" y="138.3" style="fill: #0000ff; fill-opacity: 0.6; stroke: #0000cc; stroke-opacity: 0.6; stroke-width: 0.3"/>
     <use href="#m36dbbd0642" x="540.9" y="146.9" style="fill: #0000ff; fill-opacity: 0.6; stroke: #0000cc; stroke-opacity: 0.6; stroke-width: 0.3"/>
     <use href="#m36dbbd0642" x="540" y="161.5" style="fill: #0000ff; fill-opacity: 0.6; stroke: #0000cc; stroke-opacity: 0.6; stroke-width: 0.3"/>
     <use href="#m36dbbd0642" x="574.2" y="165.6" style="fill: #0000ff; fill-opacity: 0.6; stroke: #0000cc; stroke-opacity: 0.6; stroke-width: 0.3"/>
     <use href="#m36dbbd0642" x="558.7" y="167.7" style="fill: #0000ff; fill-opacity: 0.6; stroke: #0000cc; stroke-opacity: 0.6; stroke-width: 0.3"/>
     <use href="#m36dbbd0642" x="530.3" y="174.4" style="fill: #0000ff; fill-opacity: 0.6; stroke: #0000cc; stroke-opacity: 0.6; stroke-width: 0.3"/>
     <use href="#m36dbbd0642" x="612.7" y="173.1" style="fill: #0000ff; fill-opacity: 0.6; stroke: #0000cc; stroke-opacity: 0.6; stroke-width: 0.3"/>
     <use href="#m36dbbd0642" x="493.3" y="182.9" style="fill: #0000ff; fill-opacity: 0.6; stroke: #0000cc; stroke-opacity: 0.6; stroke-width: 0.3"/>
     <use href="#m36dbbd0642" x="502.6" y="194.1" style="fill: #0000ff; fill-opacity: 0.6; stroke: #0000cc; stroke-opacity: 0.6; stroke-width: 0.3"/>
     <use href="#m36dbbd0642" x="539.8" y="181.8" style="fill: #0000ff; fill-opacity: 0.6; stroke: #0000cc; stroke-opacity: 0.6; stroke-width: 0.3"/>
     <use href="#m36dbbd0642" x="525.8" y="210.2" style="fill: #0000ff; fill-opacity: 0.6; stroke: #0000cc; stroke-opacity: 0.6; stroke-width: 0.3"/>
    </g>
   </g>
   <g id="PathCollection_6">
    <defs>
     <path id="m3a85ce6984" d="M 0 -1.74 
L -2 1.74 
L 2 1.74 
z
" style="stroke: #cc0000; stroke-opacity: 0.6; stroke-width: 0.3"/>
    </defs>
    <g clip-path="url(#p69a5e61178)">
     <use href="#m3a85ce6984" x="562.9" y="105.5" style="fill: #ff0000; fill-opacity: 0.6; stroke: #cc0000; stroke-opacity: 0.6; stroke-width: 0.3"/>
     <use href="#m3a85ce6984" x="557.1" y="111.5" style="fill: #ff0000; fill-opacity: 0.6; stroke: #cc0000; stroke-opacity: 0.6; stroke-width: 0.3"/>
     <use href="#m3a85ce6984" x="587.5" y="112.7" style="fill: #ff0000; fill-opacity: 0.6; stroke: #cc0000; stroke-opacity: 0.6; stroke-width: 0.3"/>
     <use href="#m3a85ce6984" x="534.6" y="123.7" style="fill: #ff0000; fill-opacity: 0.6; stroke: #cc0000; stroke-opacity: 0.6; stroke-width: 0.3"/>
     <use href="#m3a85ce6984" x="562.5" y="136" style="fill: #ff0000; fill-opacity: 0.6; stroke: #cc0000; stroke-opacity: 0.6; stroke-width: 0.3"/>
     <use href="#m3a85ce6984" x="563.4" y="136.6" style="fill: #ff0000; fill-opacity: 0.6; stroke: #cc0000; stroke-opacity: 0.6; stroke-width: 0.3"/>
     <use href="#m3a85ce6984" x="555.7" y="143" style="fill: #ff0000; fill-opacity: 0.6; stroke: #cc0000; stroke-opacity: 0.6; stroke-width: 0.3"/>
     <use href="#m3a85ce6984" x="532.9" y="150.5" style="fill: #ff0000; fill-opacity: 0.6; stroke: #cc0000; stroke-opacity: 0.6; stroke-width: 0.3"/>
     <use href="#m3a85ce6984" x="542.2" y="158.1" style="fill: #ff0000; fill-opacity: 0.6; stroke: #cc0000; stroke-opacity: 0.6; stroke-width: 0.3"/>
     <use href="#m3a85ce6984" x="573.3" y="160.9" style="fill: #ff0000; fill-opacity: 0.6; stroke: #cc0000; stroke-opacity: 0.6; stroke-width: 0.3"/>
     <use href="#m3a85ce6984" x="534" y="168.4" style="fill: #ff0000; fill-opacity: 0.6; stroke: #cc0000; stroke-opacity: 0.6; stroke-width: 0.3"/>
     <use href="#m3a85ce6984" x="557.6" y="166.9" style="fill: #ff0000; fill-opacity: 0.6; stroke: #cc0000; stroke-opacity: 0.6; stroke-width: 0.3"/>
     <use href="#m3a85ce6984" x="617.6" y="129" style="fill: #ff0000; fill-opacity: 0.6; stroke: #cc0000; stroke-opacity: 0.6; stroke-width: 0.3"/>
     <use href="#m3a85ce6984" x="594.4" y="138.7" style="fill: #ff0000; fill-opacity: 0.6; stroke: #cc0000; stroke-opacity: 0.6; stroke-width: 0.3"/>
     <use href="#m3a85ce6984" x="597.6" y="141.1" style="fill: #ff0000; fill-opacity: 0.6; stroke: #cc0000; stroke-opacity: 0.6; stroke-width: 0.3"/>
     <use href="#m3a85ce6984" x="614" y="145.2" style="fill: #ff0000; fill-opacity: 0.6; stroke: #cc0000; stroke-opacity: 0.6; stroke-width: 0.3"/>
     <use href="#m3a85ce6984" x="586.5" y="145.2" style="fill: #ff0000; fill-opacity: 0.6; stroke: #cc0000; stroke-opacity: 0.6; stroke-width: 0.3"/>
     <use href="#m3a85ce6984" x="583.2" y="157.2" style="fill: #ff0000; fill-opacity: 0.6; stroke: #cc0000; stroke-opacity: 0.6; stroke-width: 0.3"/>
     <use href="#m3a85ce6984" x="588.6" y="168.8" style="fill: #ff0000; fill-opacity: 0.6; stroke: #cc0000; stroke-opacity: 0.6; stroke-width: 0.3"/>
     <use href="#m3a85ce6984" x="602.2" y="177" style="fill: #ff0000; fill-opacity: 0.6; stroke: #cc0000; stroke-opacity: 0.6; stroke-width: 0.3"/>
     <use href="#m3a85ce6984" x="509.5" y="193.2" style="fill: #ff0000; fill-opacity: 0.6; stroke: #cc0000; stroke-opacity: 0.6; stroke-width: 0.3"/>
     <use href="#m3a85ce6984" x="533.3" y="182.9" style="fill: #ff0000; fill-opacity: 0.6; stroke: #cc0000; stroke-opacity: 0.6; stroke-width: 0.3"/>
     <use href="#m3a85ce6984" x="575.5" y="181.8" style="fill: #ff0000; fill-opacity: 0.6; stroke: #cc0000; stroke-opacity: 0.6; stroke-width: 0.3"/>
     <use href="#m3a85ce6984" x="571.2" y="191.9" style="fill: #ff0000; fill-opacity: 0.6; stroke: #cc0000; stroke-opacity: 0.6; stroke-width: 0.3"/>
     <use href="#m3a85ce6984" x="569.9" y="195.2" style="fill: #ff0000; fill-opacity: 0.6; stroke: #cc0000; stroke-opacity: 0.6; stroke-width: 0.3"/>
    </g>
   </g>
   <g id="text_39">
    <text style="font-weight: 700; font-size: 7.28px; font-family: 'Liberation Sans'; text-anchor: middle" x="545.9" y="17.1" transform="rotate(-0 545.9 17.1)">LoRA Dual-Channel Feature Decoupling - t-SNE Visualization (3D)</text>
   </g>
   <g id="patch_12">
    <path d="M 25.1 24.6 
L 106.9 24.6 
Q 108.5 24.6 108.5 26.2 
L 108.5 36.7 
Q 108.5 38.3 106.9 38.3 
L 25.1 38.3 
Q 23.5 38.3 23.5 36.7 
L 23.5 26.2 
Q 23.5 24.6 25.1 24.6 
z
" clip-path="url(#p69a5e61178)" style="fill: #ffffff; stroke: #555555; stroke-width: 0.8; stroke-linejoin: miter"/>
   </g>
   <g id="legend_2">
    <g id="patch_13">
     <path d="M 612.28 39.387625 
L 672.684063 39.387625 
Q 673.764063 39.387625 673.764063 38.307625 
L 673.764063 23.38 
Q 673.764063 22.3 672.684063 22.3 
L 612.28 22.3 
Q 611.2 22.3 611.2 23.38 
L 611.2 38.307625 
Q 611.2 39.387625 612.28 39.387625 
z
" style="fill: #ffffff; opacity: 0.8; stroke: #cccccc; stroke-width: 0.8; stroke-linejoin: miter"/>
    </g>
    <g id="PathCollection_7">
     <g>
      <use href="#m36dbbd0642" x="617.9365" y="26.793813" style="fill: #0000ff; fill-opacity: 0.6; stroke: #0000cc; stroke-opacity: 0.6; stroke-width: 0.3"/>
     </g>
    </g>
    <g id="text_40">
     <text style="font-size: 5.4px; font-family: 'Liberation Sans'; text-anchor: start" x="627.643" y="28.211313" transform="rotate(-0 627.643 28.211313)">Semantic Channel</text>
    </g>
    <g id="PathCollection_8">
     <g>
      <use href="#m3a85ce6984" x="617.9365" y="34.851625" style="fill: #ff0000; fill-opacity: 0.6; stroke: #cc0000; stroke-opacity: 0.6; stroke-width: 0.3"/>
     </g>
    </g>
    <g id="text_41">
     <text style="font-size: 5.4px; font-family: 'Liberation Sans'; text-anchor: start" x="627.643" y="36.269125" transform="rotate(-0 627.643 36.269125)">Texture Channel</text>
    </g>
   </g>
   <g id="text_42">
    <text style="font-size: 5.05px; font-family: 'Liberation Sans'; text-anchor: start; fill: #222222" x="25" y="29.7" transform="rotate(-0 25 29.7)">Channel Separation Distance: 4.085</text>
   </g>
   <g id="text_43">
    <text style="font-size: 5.05px; font-family: 'Liberation Sans'; text-anchor: start; fill: #222222" x="25" y="35.5" transform="rotate(-0 25 35.5)">Sample Count: 50</text>
   </g>
  </g>
 </g>
 <defs>
  <clipPath id="p39f86102aa">
   <rect x="17.5" y="21" width="391.5" height="241.9"/>
  </clipPath>
  <clipPath id="p69a5e61178">
   <rect x="0" y="0" width="685" height="279"/>
  </clipPath>
 </defs>
<text x="0" y="0" transform="translate(27.3 11.3) scale(0.86 1)" style="font-size:17.4px;stroke:#000;stroke-width:0.55px">a</text><text x="0" y="0" transform="translate(416.7 14.5) scale(1.05 1)" style="font-size:19.2px;stroke:#000;stroke-width:0.55px">b</text></svg>
</body></html>
